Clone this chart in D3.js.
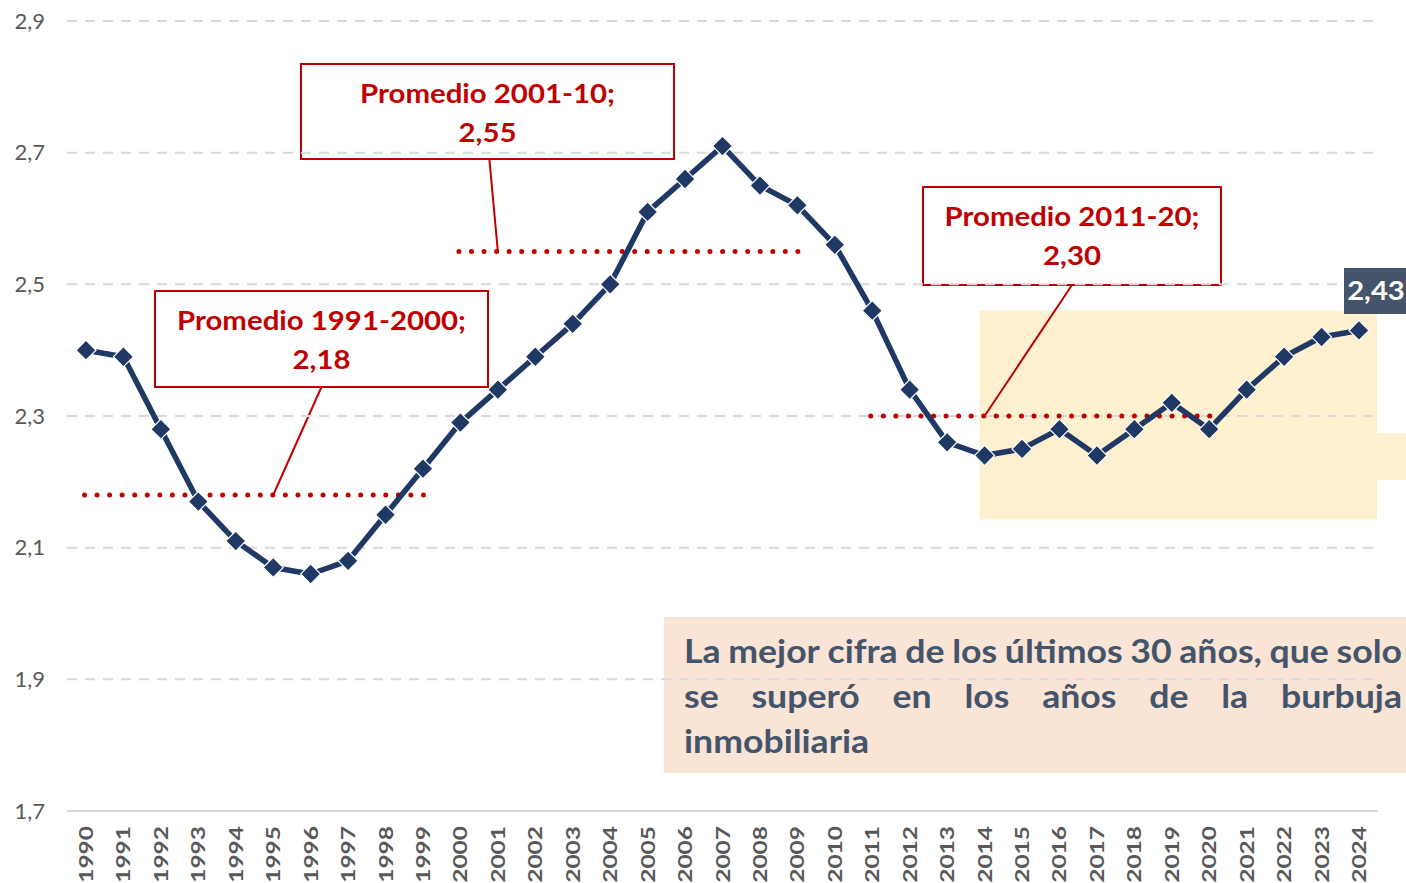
<!DOCTYPE html>
<html>
<head>
<meta charset="utf-8">
<script src="https://cdnjs.cloudflare.com/ajax/libs/d3/7.8.5/d3.min.js"></script>
<style>
  html, body { margin: 0; padding: 0; background: #fff; }
  svg { display: block; font-family: Lato, "Noto Sans", sans-serif; }
</style>
</head>
<body>
<div id="chart"></div>
<script>
// data
var years = d3.range(1990, 2025);
var values = [2.40, 2.39, 2.28, 2.17, 2.11, 2.07, 2.06, 2.08, 2.15, 2.22,
              2.29, 2.34, 2.39, 2.44, 2.50, 2.61, 2.66, 2.71, 2.65, 2.62,
              2.56, 2.46, 2.34, 2.26, 2.24, 2.25, 2.28, 2.24, 2.28, 2.32,
              2.28, 2.34, 2.39, 2.42, 2.43];
var yTicks = [1.7, 1.9, 2.1, 2.3, 2.5, 2.7, 2.9];
var avgLabels = ["Promedio 1991-2000;", "Promedio 2001-10;", "Promedio 2011-20;"];
var avgValues = [2.18, 2.55, 2.30];
var avgFrom = [1990, 2000, 2011];
var avgTo = [1999, 2009, 2020];
var avgPointer = [1995, 2001, 2014];
var noteLines = [
  "La mejor cifra de los últimos 30 años, que solo",
  "se superó en los años de la burbuja",
  "inmobiliaria"
];

var width = 1406, height = 883;
var fmt = function(v, n) { return v.toFixed(n).replace(".", ","); };
// horizontal stretch around a point (the source text is drawn wide)
var stretch = function(cx, sx) {
  return "translate(" + cx + ",0) scale(" + sx + ",1) translate(" + (-cx) + ",0)";
};

var svg = d3.select("#chart").append("svg")
  .attr("width", width)
  .attr("height", height);

var x = d3.scalePoint().domain(years).range([86, 1359]);
var y = d3.scaleLinear().domain([1.7, 2.9]).range([811, 21]);
var plotLeft = 67, plotRight = 1378;

// highlight zone for the recent years
svg.append("rect")
  .attr("x", x(2014) - 5)
  .attr("y", y(2.46))
  .attr("width", plotRight - x(2014) + 4)
  .attr("height", y(2.143) - y(2.46))
  .attr("fill", "#fff1cf");
svg.append("rect")
  .attr("x", plotRight - 1)
  .attr("y", y(2.274))
  .attr("width", width - plotRight + 1)
  .attr("height", y(2.203) - y(2.274))
  .attr("fill", "#fff1cf");

// note box
svg.append("rect")
  .attr("x", 664).attr("y", 617)
  .attr("width", width - 664).attr("height", 156)
  .attr("fill", "#fae4d6");

// callout boxes
var boxes = [
  {x: 155, y: 291, w: 333, h: 96},
  {x: 301, y: 64, w: 373, h: 95},
  {x: 923, y: 187, w: 298, h: 98}
];
var callouts = svg.append("g").attr("class", "callouts");
boxes.forEach(function(b, i) {
  callouts.append("line")
    .attr("x1", b.x + b.w * (i === 1 ? 0.505 : 0.5))
    .attr("y1", b.y + b.h)
    .attr("x2", x(avgPointer[i]))
    .attr("y2", y(avgValues[i]))
    .attr("stroke", "#c00000")
    .attr("stroke-width", 2);
  callouts.append("rect")
    .attr("x", b.x).attr("y", b.y)
    .attr("width", b.w).attr("height", b.h)
    .attr("fill", "#fff")
    .attr("stroke", "#c00000")
    .attr("stroke-width", 2);
});

// gridlines
svg.append("g").selectAll("line")
  .data(yTicks.slice(1))
  .enter().append("line")
  .attr("x1", plotLeft).attr("x2", plotRight)
  .attr("y1", function(d) { return y(d); })
  .attr("y2", function(d) { return y(d); })
  .attr("stroke", "#d9d9d9")
  .attr("stroke-width", 2)
  .attr("stroke-dasharray", "10,8");

svg.append("line")
  .attr("x1", plotLeft).attr("x2", plotRight)
  .attr("y1", y(1.7)).attr("y2", y(1.7))
  .attr("stroke", "#d9d9d9")
  .attr("stroke-width", 2);

// y labels
svg.append("g").selectAll("text")
  .data(yTicks)
  .enter().append("text")
  .attr("x", 45)
  .attr("y", function(d) { return y(d); })
  .attr("dy", "0.35em")
  .attr("text-anchor", "end")
  .attr("fill", "#595959")
  .attr("font-size", 22)
  .text(function(d) { return fmt(d, 1); });

// x labels (rotated, long and narrow)
svg.append("g").selectAll("text")
  .data(years)
  .enter().append("text")
  .attr("transform", function(d) { return "translate(" + (x(d) + 7) + ",826) rotate(-90) scale(1,0.8)"; })
  .attr("text-anchor", "end")
  .attr("fill", "#595959")
  .attr("font-size", 24.5)
  .attr("font-weight", "bold")
  .text(function(d) { return d; });

// average dotted lines
avgValues.forEach(function(v, i) {
  var x1 = x(avgFrom[i]) - 1.5, x2 = x(avgTo[i]) + 0.5;
  var n = Math.round((x2 - x1) / 12.6);
  svg.append("line")
    .attr("x1", x1).attr("x2", x2 + 0.5)
    .attr("y1", y(v)).attr("y2", y(v))
    .attr("stroke", "#c00000")
    .attr("stroke-width", 5)
    .attr("stroke-linecap", "round")
    .attr("stroke-dasharray", "0," + ((x2 - x1) / n));
});

// series line
var line = d3.line()
  .x(function(d, i) { return x(years[i]); })
  .y(function(d) { return y(d); });

svg.append("path")
  .datum(values)
  .attr("d", line)
  .attr("fill", "none")
  .attr("stroke", "#203864")
  .attr("stroke-width", 5.5)
  .attr("stroke-linejoin", "round");

svg.append("g").selectAll("path")
  .data(values)
  .enter().append("path")
  .attr("d", d3.symbol().type(d3.symbolSquare).size(200))
  .attr("transform", function(d, i) { return "translate(" + x(years[i]) + "," + y(d) + ") rotate(45)"; })
  .attr("fill", "#203864")
  .attr("stroke", "#fff")
  .attr("stroke-width", 1.2);

// callout texts
boxes.forEach(function(b, i) {
  var cx = b.x + b.w / 2;
  var t = callouts.append("text")
    .attr("transform", stretch(cx, 1.13))
    .attr("text-anchor", "middle")
    .attr("fill", "#c00000")
    .attr("font-size", 26)
    .attr("font-weight", "bold");
  t.append("tspan").attr("x", cx).attr("y", b.y + 39).text(avgLabels[i]);
  t.append("tspan").attr("x", cx).attr("y", b.y + 78).text(fmt(avgValues[i], 2));
});

// last value label
var last = values[values.length - 1];
svg.append("rect")
  .attr("x", 1344).attr("y", 268)
  .attr("width", width - 1344).attr("height", 46)
  .attr("fill", "#44546a");
svg.append("text")
  .attr("x", 1376).attr("y", 300)
  .attr("transform", stretch(1376, 1.08))
  .attr("text-anchor", "middle")
  .attr("fill", "#fff")
  .attr("font-size", 27)
  .attr("font-weight", "bold")
  .text(fmt(last, 2));

// note text, justified
var noteLeft = 684, noteRight = 1402, noteSx = 1.08;
noteLines.forEach(function(ln, li) {
  var yy = 663 + li * 45;
  var words = ln.split(" ");
  var g = svg.append("g").attr("transform", stretch(noteLeft, noteSx));
  var nodes = words.map(function(w) {
    return g.append("text")
      .attr("y", yy)
      .attr("fill", "#44546a")
      .attr("font-size", 33)
      .attr("font-weight", "bold")
      .text(w);
  });
  var widths = nodes.map(function(n) { return n.node().getComputedTextLength(); });
  var total = d3.sum(widths);
  var avail = (noteRight - noteLeft) / noteSx;
  var gap = (li < noteLines.length - 1) ? (avail - total) / (words.length - 1) : 8;
  var cx = noteLeft;
  nodes.forEach(function(n, k) {
    n.attr("x", cx);
    cx += widths[k] + gap;
  });
});
</script>
</body>
</html>
